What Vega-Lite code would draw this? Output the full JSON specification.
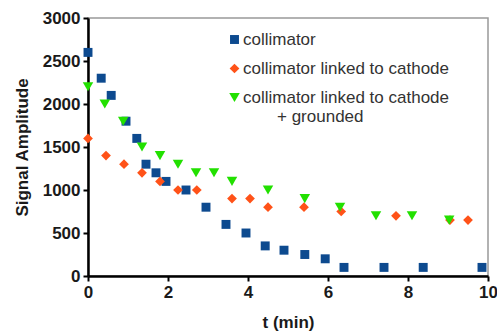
{
  "$schema": "https://vega.github.io/schema/vega-lite/v6.json",
  "width": 400,
  "height": 258,
  "autosize": "none",
  "padding": {"left": 88, "top": 18, "right": 9, "bottom": 57},
  "background": "white",
  "config": {
    "font": "Liberation Sans",
    "view": {"stroke": "#999999", "strokeWidth": 1.5}
  },
  "data": {
    "values": [
      {"t": 0, "amp": 2600, "series": "collimator"},
      {"t": 0.33, "amp": 2300, "series": "collimator"},
      {"t": 0.58, "amp": 2100, "series": "collimator"},
      {"t": 0.95, "amp": 1800, "series": "collimator"},
      {"t": 1.22, "amp": 1600, "series": "collimator"},
      {"t": 1.45, "amp": 1300, "series": "collimator"},
      {"t": 1.7, "amp": 1200, "series": "collimator"},
      {"t": 1.95, "amp": 1100, "series": "collimator"},
      {"t": 2.45, "amp": 1000, "series": "collimator"},
      {"t": 2.95, "amp": 800, "series": "collimator"},
      {"t": 3.45, "amp": 600, "series": "collimator"},
      {"t": 3.95, "amp": 500, "series": "collimator"},
      {"t": 4.43, "amp": 350, "series": "collimator"},
      {"t": 4.9, "amp": 300, "series": "collimator"},
      {"t": 5.42, "amp": 250, "series": "collimator"},
      {"t": 5.93, "amp": 200, "series": "collimator"},
      {"t": 6.4, "amp": 100, "series": "collimator"},
      {"t": 7.4, "amp": 100, "series": "collimator"},
      {"t": 8.38, "amp": 100, "series": "collimator"},
      {"t": 9.85, "amp": 100, "series": "collimator"},
      {"t": 0, "amp": 1600, "series": "linked"},
      {"t": 0.45, "amp": 1400, "series": "linked"},
      {"t": 0.9, "amp": 1300, "series": "linked"},
      {"t": 1.35, "amp": 1200, "series": "linked"},
      {"t": 1.8, "amp": 1100, "series": "linked"},
      {"t": 2.25, "amp": 1000, "series": "linked"},
      {"t": 2.72, "amp": 1000, "series": "linked"},
      {"t": 3.6, "amp": 900, "series": "linked"},
      {"t": 4.05, "amp": 900, "series": "linked"},
      {"t": 4.5, "amp": 800, "series": "linked"},
      {"t": 5.4, "amp": 800, "series": "linked"},
      {"t": 6.33, "amp": 750, "series": "linked"},
      {"t": 7.7, "amp": 700, "series": "linked"},
      {"t": 9.05, "amp": 650, "series": "linked"},
      {"t": 9.5, "amp": 650, "series": "linked"},
      {"t": 0, "amp": 2200, "series": "grounded"},
      {"t": 0.42, "amp": 2000, "series": "grounded"},
      {"t": 0.88, "amp": 1800, "series": "grounded"},
      {"t": 1.35, "amp": 1500, "series": "grounded"},
      {"t": 1.8, "amp": 1400, "series": "grounded"},
      {"t": 2.25, "amp": 1300, "series": "grounded"},
      {"t": 2.7, "amp": 1200, "series": "grounded"},
      {"t": 3.15, "amp": 1200, "series": "grounded"},
      {"t": 3.6, "amp": 1100, "series": "grounded"},
      {"t": 4.5, "amp": 1000, "series": "grounded"},
      {"t": 5.42, "amp": 900, "series": "grounded"},
      {"t": 6.3, "amp": 800, "series": "grounded"},
      {"t": 7.2, "amp": 700, "series": "grounded"},
      {"t": 8.1, "amp": 700, "series": "grounded"},
      {"t": 9.03, "amp": 650, "series": "grounded"}
    ]
  },
  "mark": {"type": "point", "filled": true, "opacity": 1},
  "encoding": {
    "x": {
      "field": "t", "type": "quantitative",
      "scale": {"domain": [0, 10], "nice": false},
      "axis": {
        "title": "t (min)", "values": [0, 2, 4, 6, 8, 10], "format": "d",
        "grid": false, "domainColor": "black", "domainWidth": 2.5,
        "tickColor": "black", "tickWidth": 2, "tickSize": 5,
        "labelFont": "Liberation Sans", "labelFontSize": 17, "labelFontWeight": "bold", "labelColor": "#1a1a1a",
        "labelPadding": 3, "labelFlush": false,
        "titleFont": "Liberation Sans", "titleFontSize": 17, "titleFontWeight": "bold", "titleColor": "#1a1a1a",
        "titlePadding": 14
      }
    },
    "y": {
      "field": "amp", "type": "quantitative",
      "scale": {"domain": [0, 3000], "nice": false},
      "axis": {
        "title": "Signal Amplitude", "values": [0, 500, 1000, 1500, 2000, 2500, 3000], "format": "d",
        "grid": false, "domainColor": "black", "domainWidth": 2.5,
        "tickColor": "black", "tickWidth": 2, "tickSize": 5,
        "labelFont": "Liberation Sans", "labelFontSize": 17, "labelFontWeight": "bold", "labelColor": "#1a1a1a",
        "labelPadding": 3,
        "titleFont": "Liberation Sans", "titleFontSize": 17, "titleFontWeight": "bold", "titleColor": "#1a1a1a",
        "titlePadding": 11
      }
    },
    "color": {
      "field": "series", "type": "nominal",
      "scale": {"domain": ["collimator", "linked", "grounded"], "range": ["#0d4a8f", "#ff5218", "#22e000"]},
      "legend": {
        "title": null, "orient": "none", "legendX": 138, "legendY": 13,
        "labelExpr": "datum.value == 'collimator' ? 'collimator' : datum.value == 'linked' ? 'collimator linked to cathode' : ['collimator linked to cathode', '\u200b\u2003\u2003+ grounded']",
        "labelFont": "Liberation Sans", "labelFontSize": 17, "labelColor": "#333",
        "labelBaseline": "middle", "labelOffset": 0, "labelLimit": 300,
        "rowPadding": 11, "symbolSize": 85, "symbolOpacity": 1,
        "encode": {"symbols": {"update": {"shape": {"scale": "shape", "field": "value"}}}}
      }
    },
    "shape": {
      "field": "series", "type": "nominal",
      "scale": {"domain": ["collimator", "linked", "grounded"], "range": ["square", "diamond", "triangle-down"]},
      "legend": null
    },
    "size": {
      "field": "series", "type": "nominal",
      "scale": {"domain": ["collimator", "linked", "grounded"], "range": [80, 110, 140]},
      "legend": null
    }
  }
}
